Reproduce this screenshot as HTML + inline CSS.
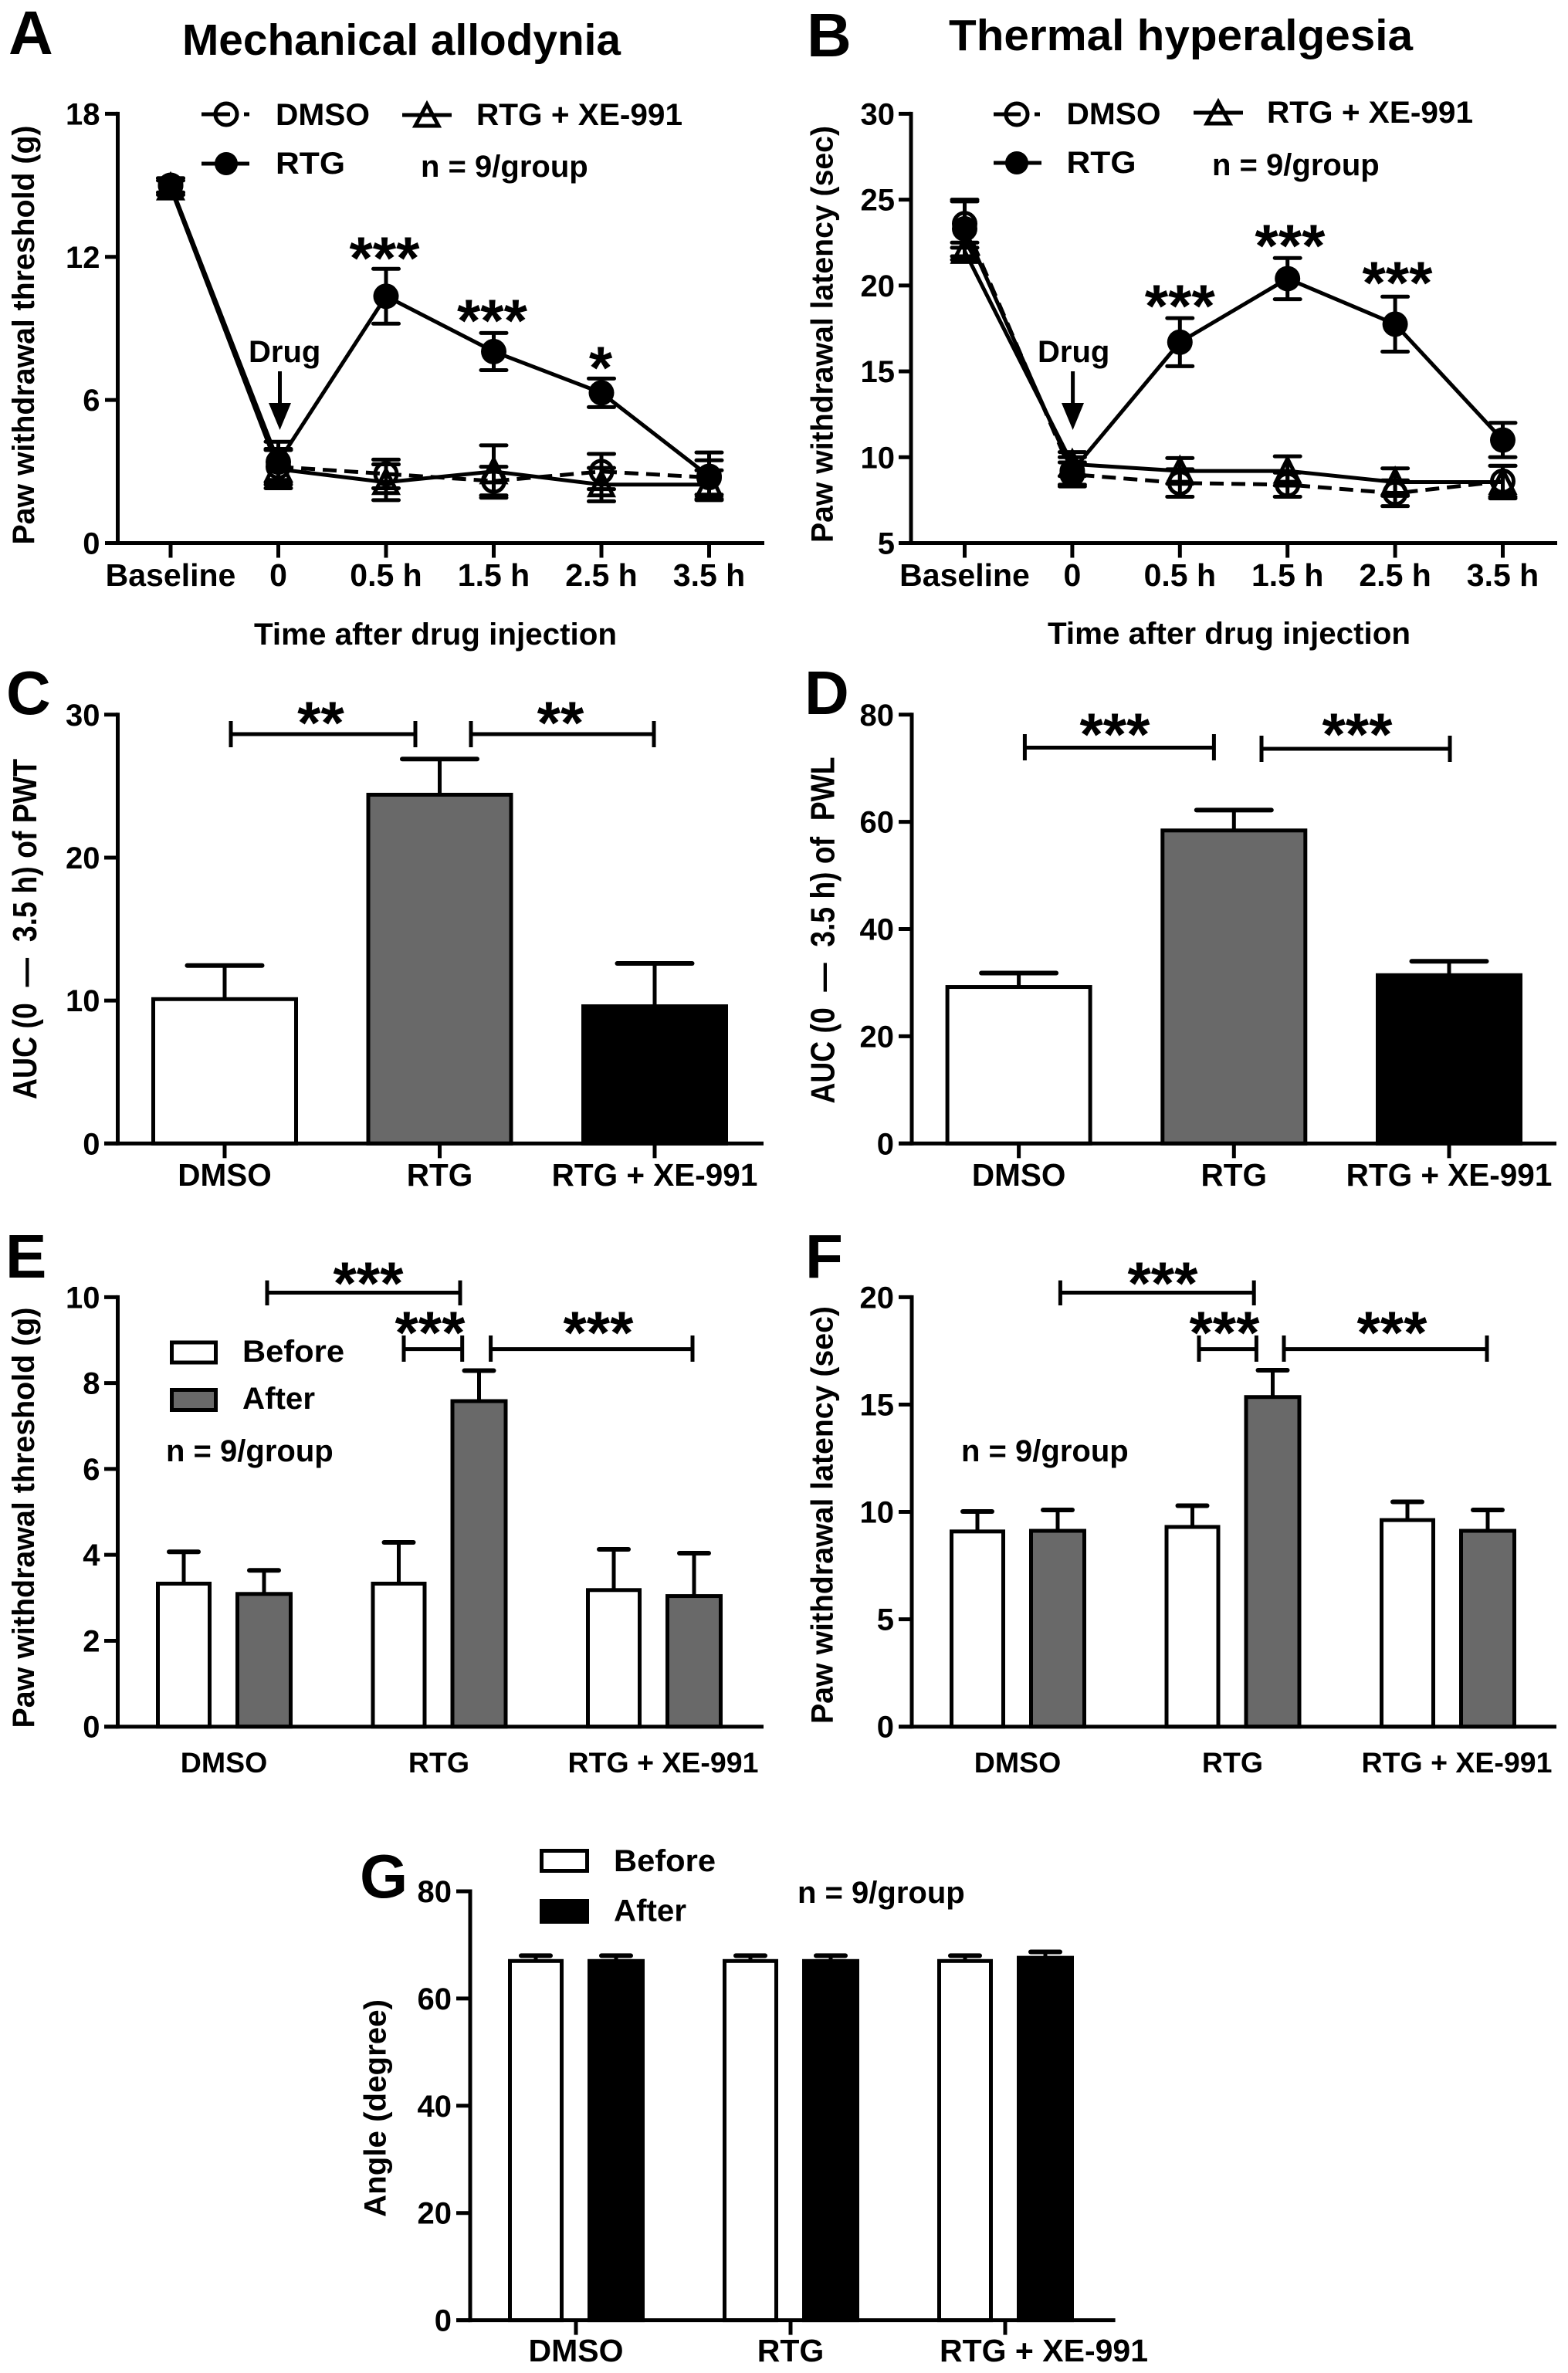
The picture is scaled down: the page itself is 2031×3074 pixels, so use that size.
<!DOCTYPE html>
<html lang="en">
<head>
<meta charset="utf-8">
<title>Mechanical allodynia and thermal hyperalgesia figure</title>
<style>
html,body{margin:0;padding:0;background:#fff}
svg{display:block;font-family:"Liberation Sans",Arial,sans-serif;font-weight:bold;fill:#000}
.letter{font-size:80px}
.title{font-size:57px}
.lab{font-size:40px}
.auc{font-size:44px}
.star{font-size:78px;text-anchor:middle}
.ln{fill:none;stroke:#000;stroke-width:5}
</style>
</head>
<body>
<svg xmlns="http://www.w3.org/2000/svg" width="2031" height="3074" viewBox="0 0 2031 3074">
<rect width="2031" height="3074" fill="#fff"/>

<g id="panel-a">
  <text class="letter" x="11" y="70">A</text>
  <text class="title" x="236" y="71" textLength="568" lengthAdjust="spacingAndGlyphs">Mechanical allodynia</text>
  <text class="lab" text-anchor="middle" transform="translate(44 434) rotate(-90)" textLength="543" lengthAdjust="spacingAndGlyphs">Paw withdrawal threshold (g)</text>
  <text class="lab" x="564" y="835" text-anchor="middle" textLength="470" lengthAdjust="spacingAndGlyphs">Time after drug injection</text>
  <g>
    <path class="ln" d="M261 148H298M316 148H323"/>
    <circle class="ln" cx="293" cy="148" r="14"/>
    <text class="lab" x="357" y="162" textLength="122" lengthAdjust="spacingAndGlyphs">DMSO</text>
    <path class="ln" d="M521 149H585"/>
    <path class="ln" d="M553 135L568 163H538Z"/>
    <text class="lab" x="617" y="162" textLength="267" lengthAdjust="spacingAndGlyphs">RTG + XE-991</text>
    <path class="ln" d="M261 212H323"/>
    <circle cx="293" cy="212" r="15"/>
    <text class="lab" x="357" y="225" textLength="90" lengthAdjust="spacingAndGlyphs">RTG</text>
    <text class="lab" x="545" y="229">n = 9/group</text>
  </g>
  <text class="lab" x="322" y="469">Drug</text>
  <path class="ln" d="M362.5 481V530"/>
  <path d="M348 522H377L362.5 557Z"/>
  <text class="star" x="498" y="361">***</text>
  <text class="star" x="637.5" y="442">***</text>
  <text class="star" x="778" y="503">*</text>
</g>

<g id="panel-b">
  <text class="letter" x="1045" y="73">B</text>
  <text class="title" x="1229" y="65" textLength="601" lengthAdjust="spacingAndGlyphs">Thermal hyperalgesia</text>
  <text class="lab" text-anchor="middle" transform="translate(1078.5 433) rotate(-90)" textLength="540" lengthAdjust="spacingAndGlyphs">Paw withdrawal latency (sec)</text>
  <text class="lab" x="1592" y="834" text-anchor="middle" textLength="470" lengthAdjust="spacingAndGlyphs">Time after drug injection</text>
  <g>
    <path class="ln" d="M1287 148H1322M1340 148H1347"/>
    <circle class="ln" cx="1317" cy="148" r="14"/>
    <text class="lab" x="1381.5" y="161" textLength="122" lengthAdjust="spacingAndGlyphs">DMSO</text>
    <path class="ln" d="M1546 146H1610"/>
    <path class="ln" d="M1578 132L1593 160H1563Z"/>
    <text class="lab" x="1641" y="159" textLength="267" lengthAdjust="spacingAndGlyphs">RTG + XE-991</text>
    <path class="ln" d="M1287 211H1349"/>
    <circle cx="1317" cy="211" r="15"/>
    <text class="lab" x="1381.5" y="224" textLength="90" lengthAdjust="spacingAndGlyphs">RTG</text>
    <text class="lab" x="1570" y="227">n = 9/group</text>
  </g>
  <text class="lab" x="1344" y="469">Drug</text>
  <path class="ln" d="M1389.6 481V530"/>
  <path d="M1375 522H1404L1389.6 557Z"/>
  <text class="star" x="1528.3" y="423">***</text>
  <text class="star" x="1670.9" y="345">***</text>
  <text class="star" x="1810" y="393">***</text>
</g>

<g id="panel-c">
  <text class="letter" x="8" y="925">C</text>
  <text class="auc" text-anchor="middle" transform="translate(47 1203.5) rotate(-90)" textLength="441" lengthAdjust="spacingAndGlyphs">AUC (0 &#160;—&#160; 3.5 h) of PWT</text>
  <path class="ln" d="M299 934V968M299 951H538M538 934V968"/>
  <path class="ln" d="M610 934V968M610 951H847M847 934V968"/>
  <text class="star" x="415.5" y="963">**</text>
  <text class="star" x="726" y="963">**</text>
</g>

<g id="panel-d">
  <text class="letter" x="1042" y="925">D</text>
  <text class="auc" text-anchor="middle" transform="translate(1080.5 1205) rotate(-90)" textLength="449" lengthAdjust="spacingAndGlyphs">AUC (0 &#160;—&#160; 3.5 h) of &#160;PWL</text>
  <path class="ln" d="M1327.4 951V985M1327.4 968.5H1572.4M1572.4 951V985"/>
  <path class="ln" d="M1634 953V987M1634 970H1878M1878 953V987"/>
  <text class="star" x="1444" y="978">***</text>
  <text class="star" x="1758" y="978">***</text>
</g>

<g id="panel-e">
  <text class="letter" x="7" y="1655">E</text>
  <text class="lab" text-anchor="middle" transform="translate(44 1966) rotate(-90)" textLength="545" lengthAdjust="spacingAndGlyphs">Paw withdrawal threshold (g)</text>
  <path class="ln" d="M346 1658.6V1691M346 1674.5H596M596 1658.6V1691"/>
  <path class="ln" d="M523 1730V1764M523 1747.6H598.7M598.7 1730V1764"/>
  <path class="ln" d="M635.6 1730V1764M635.6 1747.6H897M897 1730V1764"/>
  <text class="star" x="477" y="1689">***</text>
  <text class="star" x="557" y="1753">***</text>
  <text class="star" x="775" y="1753">***</text>
  <g>
    <rect x="222.5" y="1739" width="57" height="26" fill="#fff" stroke="#000" stroke-width="5"/>
    <text class="lab" x="314" y="1764" textLength="132" lengthAdjust="spacingAndGlyphs">Before</text>
    <rect x="222.5" y="1800.5" width="57" height="26" fill="#696969" stroke="#000" stroke-width="5"/>
    <text class="lab" x="314" y="1825" textLength="94" lengthAdjust="spacingAndGlyphs">After</text>
    <text class="lab" x="215" y="1893">n = 9/group</text>
  </g>
</g>

<g id="panel-f">
  <text class="letter" x="1043" y="1655">F</text>
  <text class="lab" text-anchor="middle" transform="translate(1078.5 1962.5) rotate(-90)" textLength="541" lengthAdjust="spacingAndGlyphs">Paw withdrawal latency (sec)</text>
  <path class="ln" d="M1373.4 1658.6V1691M1373.4 1674.5H1624.2M1624.2 1658.6V1691"/>
  <path class="ln" d="M1553 1730V1764M1553 1747.6H1627.4M1627.4 1730V1764"/>
  <path class="ln" d="M1663 1730V1764M1663 1747.6H1926M1926 1730V1764"/>
  <text class="star" x="1506" y="1689">***</text>
  <text class="star" x="1586" y="1753">***</text>
  <text class="star" x="1803" y="1753">***</text>
  <text class="lab" x="1245" y="1893">n = 9/group</text>
</g>

<g id="panel-g">
  <text class="letter" x="466" y="2458">G</text>
  <text class="lab" text-anchor="middle" transform="translate(499.6 2731) rotate(-90)" textLength="282" lengthAdjust="spacingAndGlyphs">Angle (degree)</text>
  <g>
    <rect x="701.5" y="2397.5" width="59" height="26" fill="#fff" stroke="#000" stroke-width="5"/>
    <text class="lab" x="795" y="2424" textLength="132" lengthAdjust="spacingAndGlyphs">Before</text>
    <rect x="701.5" y="2462.5" width="59" height="27" fill="#000" stroke="#000" stroke-width="5"/>
    <text class="lab" x="795" y="2488.5" textLength="94" lengthAdjust="spacingAndGlyphs">After</text>
    <text class="lab" x="1033" y="2465">n = 9/group</text>
  </g>
</g>
</svg>

<script>
const lineCategories = ['Baseline', '0', '0.5 h', '1.5 h', '2.5 h', '3.5 h'];
const barCategories = ['DMSO', 'RTG', 'RTG + XE-991'];

const aTicks = [0, 6, 12, 18];
const aDmso = [15, 3.2, 2.9, 2.6, 3.0, 2.75];
const aDmsoErr = [0.3, 0.75, 0.6, 0.6, 0.74, 0.72];
const aRtg = [15, 3.4, 10.35, 8.03, 6.3, 2.8];
const aRtgErr = [0.3, 0.85, 1.15, 0.78, 0.6, 1.0];
const aXe = [14.9, 3.1, 2.55, 3.0, 2.45, 2.45];
const aXeErr = [0.3, 0.8, 0.75, 1.1, 0.7, 0.6];

const bTicks = [5, 10, 15, 20, 25, 30];
const bDmso = [23.6, 9.0, 8.5, 8.4, 7.9, 8.6];
const bDmsoErr = [1.4, 0.7, 0.8, 0.7, 0.75, 0.9];
const bRtg = [23.3, 9.2, 16.7, 20.4, 17.75, 11.0];
const bRtgErr = [1.6, 0.8, 1.4, 1.2, 1.6, 1.0];
const bXe = [22.0, 9.6, 9.2, 9.2, 8.55, 8.55];
const bXeErr = [0.5, 0.7, 0.75, 0.85, 0.8, 0.95];

const cTicks = [0, 10, 20, 30];
const cValues = [10.1, 24.4, 9.6];
const cErrors = [2.35, 2.5, 3.0];

const dTicks = [0, 20, 40, 60, 80];
const dValues = [29.2, 58.4, 31.4];
const dErrors = [2.6, 3.8, 2.6];

const eTicks = [0, 2, 4, 6, 8, 10];
const eBefore = [3.33, 3.33, 3.18];
const eBeforeErr = [0.74, 0.96, 0.95];
const eAfter = [3.09, 7.58, 3.04];
const eAfterErr = [0.55, 0.71, 1.0];

const fTicks = [0, 5, 10, 15, 20];
const fBefore = [9.09, 9.3, 9.62];
const fBeforeErr = [0.93, 0.99, 0.85];
const fAfter = [9.12, 15.35, 9.12];
const fAfterErr = [0.97, 1.25, 0.97];

const gTicks = [0, 20, 40, 60, 80];
const gBefore = [67.0, 67.0, 67.0];
const gBeforeErr = [1.0, 1.0, 1.0];
const gAfter = [67.0, 67.0, 67.6];
const gAfterErr = [1.0, 1.0, 1.1];

const SVGNS = 'http://www.w3.org/2000/svg';

function make(tag, attrs, parent) {
  const el = document.createElementNS(SVGNS, tag);
  for (const key in attrs) el.setAttribute(key, attrs[key]);
  parent.appendChild(el);
  return el;
}

function linearScale(d0, d1, r0, r1) {
  return function (v) { return r0 + (v - d0) * (r1 - r0) / (d1 - d0); };
}

function drawAxes(parent, ticks, yScale, o) {
  const yLine = make('line', { x1: o.axisX, x2: o.axisX, y1: yScale(ticks[ticks.length - 1]) - 2.5, y2: yScale(ticks[0]) + 2.5, stroke: '#000', 'stroke-width': 5 }, parent);
  
  
  const xLine = make('line', { x1: o.tickLeft, x2: o.axisEnd, y1: yScale(ticks[0]), y2: yScale(ticks[0]), stroke: '#000', 'stroke-width': 5 }, parent);
  
  
  ticks.forEach(function (t) {
    const tick = make('line', { x1: o.tickLeft, x2: o.axisX, y1: yScale(t), y2: yScale(t), stroke: '#000', 'stroke-width': 5 }, parent);
    
    
    const label = make('text', { x: o.labelRight, y: yScale(t) + 14, 'text-anchor': 'end', 'font-size': 40 }, parent);
    label.textContent = String(t);
    
    
  });
}

function drawCategories(parent, categories, xScale, y0, o) {
  categories.forEach(function (c, i) {
    if (o.ticks) {
      const tick = make('line', { x1: xScale(i), x2: xScale(i), y1: y0, y2: y0 + 19, stroke: '#000', 'stroke-width': 5 }, parent);
      
      
    }
    const shift = i === categories.length - 1 ? o.lastShift : 0;
    const label = make('text', { x: xScale(i) + shift, y: o.labelY, 'text-anchor': 'middle', 'font-size': o.fontSize }, parent);
    label.textContent = c;
    
    
  });
}

function drawErrorUp(parent, x, yTop, yBase, capWidth) {
  const stem = make('line', { x1: x, x2: x, y1: yTop, y2: yBase, stroke: '#000', 'stroke-width': 5 }, parent);
  
  
  const cap = make('line', { x1: x - capWidth / 2, x2: x + capWidth / 2, y1: yTop, y2: yTop, stroke: '#000', 'stroke-width': 6, 'stroke-linecap': 'round' }, parent);
  
  
}

function drawBar(parent, x, width, yTop, y0, fill) {
  const bar = make('rect', { x: x - width / 2 + 2.5, y: yTop, width: width - 5, height: y0 - yTop, fill: fill, stroke: '#000', 'stroke-width': 5 }, parent);
  
  
}

function drawSeries(parent, values, errors, xScale, yScale, kind) {
  const pts = values.map(function (v, i) { return xScale(i) + ',' + yScale(v); }).join(' ');
  const line = make('polyline', { points: pts, fill: 'none', stroke: '#000', 'stroke-width': 5, 'stroke-linejoin': 'round' }, parent);
  if (kind === 'dmso') line.setAttribute('stroke-dasharray', '18 10');
  
  
  values.forEach(function (v, i) {
    const x = xScale(i), y = yScale(v);
    const err = make('path', { d: 'M' + x + ' ' + yScale(v + errors[i]) + 'V' + yScale(v - errors[i]) + 'M' + (x - 16.5) + ' ' + yScale(v + errors[i]) + 'h33M' + (x - 16.5) + ' ' + yScale(v - errors[i]) + 'h33', fill: 'none', stroke: '#000', 'stroke-width': 5, 'stroke-linecap': 'round' }, parent);
    
    
    if (kind === 'xe') {
      const tri = make('path', { d: 'M' + x + ' ' + (y - 16) + 'L' + (x + 15) + ' ' + (y + 14) + 'H' + (x - 15) + 'Z', fill: 'none', stroke: '#000', 'stroke-width': 5 }, parent);
      
      
    } else {
      const dot = make('circle', { cx: x, cy: y, r: kind === 'rtg' ? 16.5 : 14, fill: kind === 'rtg' ? '#000' : 'none', stroke: kind === 'rtg' ? 'none' : '#000', 'stroke-width': 5 }, parent);
      
      
    }
  });
}

function linePanel(id, ticks, dmso, dmsoErr, rtg, rtgErr, xe, xeErr, o) {
  const g = document.getElementById(id);
  const yScale = linearScale(ticks[0], ticks[ticks.length - 1], 703.5, 147.4);
  const xScale = linearScale(0, 5, o.firstX, o.lastX);
  drawSeries(g, dmso, dmsoErr, xScale, yScale, 'dmso');
  drawSeries(g, xe, xeErr, xScale, yScale, 'xe');
  drawSeries(g, rtg, rtgErr, xScale, yScale, 'rtg');
  drawAxes(g, ticks, yScale, o);
  drawCategories(g, lineCategories, xScale, 703.5, { ticks: true, lastShift: 0, labelY: 759, fontSize: 41 });
}

function singleBarPanel(id, ticks, values, errors, o) {
  const g = document.getElementById(id);
  const yScale = linearScale(ticks[0], ticks[ticks.length - 1], 1481.3, 925.8);
  const xScale = linearScale(0, 2, o.firstX, o.lastX);
  const fills = ['#fff', '#696969', '#000'];
  values.forEach(function (v, i) {
    drawErrorUp(g, xScale(i), yScale(v + errors[i]), yScale(v), 97);
    drawBar(g, xScale(i), 190, yScale(v), 1481.3, fills[i]);
  });
  drawAxes(g, ticks, yScale, o);
  drawCategories(g, barCategories, xScale, 1481.3, { ticks: true, lastShift: 0, labelY: 1536, fontSize: 40.5 });
}

function groupedBarPanel(id, ticks, before, beforeErr, after, afterErr, o) {
  const g = document.getElementById(id);
  const yScale = linearScale(ticks[0], ticks[ticks.length - 1], o.y0, o.yTop);
  const xScale = linearScale(0, 2, o.firstX, o.lastX);
  before.forEach(function (v, i) {
    const xb = xScale(i) - 52, xa = xScale(i) + 52;
    drawErrorUp(g, xb, yScale(v + beforeErr[i]), yScale(v), 38);
    drawBar(g, xb, 72, yScale(v), o.y0, '#fff');
    drawErrorUp(g, xa, yScale(after[i] + afterErr[i]), yScale(after[i]), 38);
    drawBar(g, xa, 74, yScale(after[i]), o.y0, o.afterFill);
  });
  drawAxes(g, ticks, yScale, o);
  drawCategories(g, barCategories, xScale, o.y0, { ticks: o.ticks, lastShift: o.lastShift, labelY: o.labelY, fontSize: o.fontSize });
}

linePanel('panel-a', aTicks, aDmso, aDmsoErr, aRtg, aRtgErr, aXe, aXeErr, { axisX: 152.5, tickLeft: 136, axisEnd: 990, labelRight: 129.5, firstX: 221, lastX: 918.5 });
linePanel('panel-b', bTicks, bDmso, bDmsoErr, bRtg, bRtgErr, bXe, bXeErr, { axisX: 1180, tickLeft: 1164, axisEnd: 2017, labelRight: 1159, firstX: 1249.5, lastX: 1946.5 });
singleBarPanel('panel-c', cTicks, cValues, cErrors, { axisX: 152.5, tickLeft: 135, axisEnd: 989, labelRight: 129.5, firstX: 291, lastX: 848 });
singleBarPanel('panel-d', dTicks, dValues, dErrors, { axisX: 1181, tickLeft: 1164, axisEnd: 2016, labelRight: 1158, firstX: 1319.6, lastX: 1877 });
groupedBarPanel('panel-e', eTicks, eBefore, eBeforeErr, eAfter, eAfterErr, { axisX: 152.5, tickLeft: 135, axisEnd: 989, labelRight: 129.5, firstX: 290, lastX: 847, y0: 2236.7, yTop: 1680.4, afterFill: '#696969', ticks: false, lastShift: 12, labelY: 2296, fontSize: 37.5 });
groupedBarPanel('panel-f', fTicks, fBefore, fBeforeErr, fAfter, fAfterErr, { axisX: 1181, tickLeft: 1164, axisEnd: 2016, labelRight: 1158, firstX: 1318, lastX: 1875, y0: 2236.7, yTop: 1680.4, afterFill: '#696969', ticks: false, lastShift: 12, labelY: 2296, fontSize: 37.5 });
groupedBarPanel('panel-g', gTicks, gBefore, gBeforeErr, gAfter, gAfterErr, { axisX: 609, tickLeft: 591, axisEnd: 1444.6, labelRight: 585, firstX: 746, lastX: 1302, y0: 3005.6, yTop: 2450, afterFill: '#000', ticks: true, lastShift: 50, labelY: 3059, fontSize: 41 });
</script>
</body>
</html>
